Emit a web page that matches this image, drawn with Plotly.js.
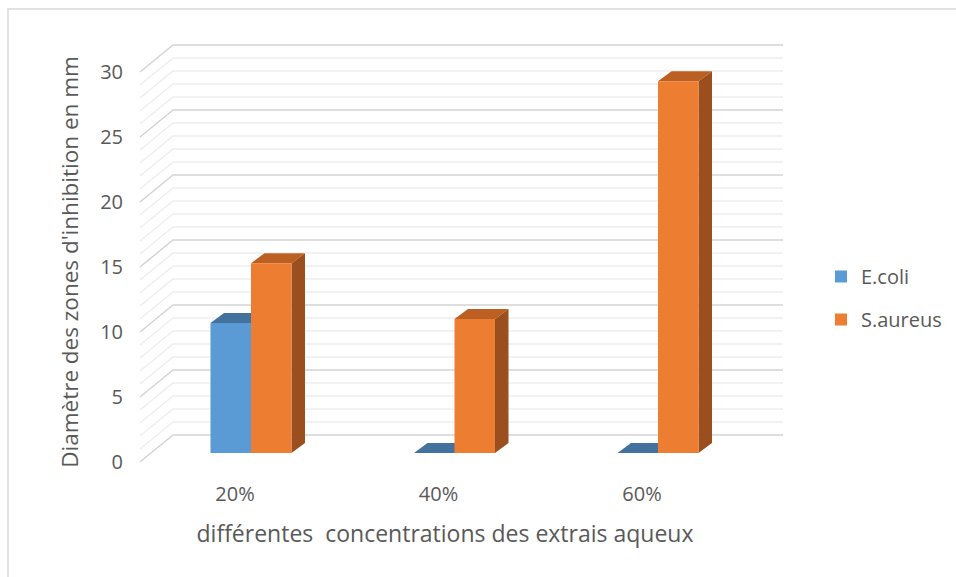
<!DOCTYPE html>
<html>
<head>
<meta charset="utf-8">
<script src="https://cdn.plot.ly/plotly-3.0.1.min.js"></script>
<style>
  html, body { margin: 0; padding: 0; background: #ffffff; }
  #chart { width: 956px; height: 577px; }
</style>
</head>
<body>
<div id="chart"></div>
<script>
// Data: inhibition zone diameters (mm) per aqueous extract concentration
const categories = ['20%', '40%', '60%'];
const ecoli = [10, 0, 0];
const saureus = [14.6, 10.3, 28.6];
const seriesNames = ['E.coli', 'S.aureus'];
const yTickVals = [0, 5, 10, 15, 20, 25, 30];

// Page and plot-area geometry (pixels)
const W = 956, H = 577;
const M = { l: 140, r: 206, t: 46, b: 99, autoexpand: false };
const plotW = W - M.l - M.r;
const plotH = H - M.t - M.b;

// Scale of the bar plane: pixels per category and per mm
const CAT_PX = 203.5, VAL_PX = 13;
const CAT0_PX = 111;   // first category centre, from plot left
const ZERO_PX = 25;    // zero level of the bar plane, from plot bottom
const xRange = [-CAT0_PX / CAT_PX, (plotW - CAT0_PX) / CAT_PX];
const yRange = [-ZERO_PX / VAL_PX, (plotH - ZERO_PX) / VAL_PX];

// Depth offsets (px, right / up positive) relative to the bar plane
const FRONT = { dx: -11, dy: -9 };
const BACK = { dx: 22, dy: 18 };
const BAR_DEPTH = { dx: 13.5, dy: 10 };
const WALL_RIGHT_PX = 643;  // right end of the back wall, from plot left

const BARGAP = 0.602;
const barW = (1 - BARGAP) / 2;

const colors = {
  front: ['#5B9BD5', '#ED7D31'],
  top: ['#44729E', '#BC5F22'],
  side: ['#3A6690', '#9B4F1E']
};
const textColor = '#595959';
const FONT = '"Open Sans", "Noto Sans", sans-serif';

const pxPerX = plotW / (xRange[1] - xRange[0]);
const pxPerY = plotH / (yRange[1] - yRange[0]);
const yPaper = v => (v - yRange[0]) / (yRange[1] - yRange[0]);

const shapes = [];

// Chart frame
shapes.push({
  type: 'rect', xref: 'paper', yref: 'paper', layer: 'below',
  x0: (8 - M.l) / plotW, x1: (W + 20 - M.l) / plotW,
  y0: (H - M.b - (H + 20)) / plotH, y1: (H - M.b - 9) / plotH,
  line: { color: '#D9D9D9', width: 1.5 }, fillcolor: 'rgba(0,0,0,0)'
});

// Back wall and side wall gridlines (major every 5 mm, minor every 1 mm)
const yMin = yTickVals[0], yMax = yTickVals[yTickVals.length - 1];
const majorStep = yTickVals[1] - yTickVals[0];
for (let v = yMin; v <= yMax; v += 1) {
  const major = v % majorStep === 0;
  const yf = yPaper(v) + FRONT.dy / plotH;
  const yb = yPaper(v) + BACK.dy / plotH;
  const xbl = (BACK.dx - FRONT.dx) / plotW;
  const xbr = WALL_RIGHT_PX / plotW;
  shapes.push({
    type: 'path', xref: 'paper', yref: 'paper', layer: 'below',
    path: `M0,${yf} L${xbl},${yb} L${xbr},${yb}`,
    line: { color: major ? '#D4D4D4' : '#EEEEEE', width: 1.5 }
  });
}

// Top and side faces of each column, built from the same values as the bars
const ddx = BAR_DEPTH.dx / pxPerX, ddy = BAR_DEPTH.dy / pxPerY;
[ecoli, saureus].forEach((vals, s) => {
  vals.forEach((v, i) => {
    const x0 = i + (s - 1) * barW, x1 = x0 + barW;
    shapes.push({
      type: 'path', xref: 'x', yref: 'y', layer: 'below',
      path: `M${x0},${v} L${x1},${v} L${x1 + ddx},${v + ddy} L${x0 + ddx},${v + ddy} Z`,
      fillcolor: colors.top[s], line: { width: 0 }
    });
    if (v > 0) {
      shapes.push({
        type: 'path', xref: 'x', yref: 'y', layer: 'below',
        path: `M${x1},0 L${x1},${v} L${x1 + ddx},${v + ddy} L${x1 + ddx},${ddy} Z`,
        fillcolor: colors.side[s], line: { width: 0 }
      });
    }
  });
});

const traces = [ecoli, saureus].map((vals, s) => ({
  type: 'bar',
  name: seriesNames[s],
  x: categories,
  y: vals,
  marker: { color: colors.front[s], line: { width: 0 } },
  legendgroup: seriesNames[s],
  hoverinfo: 'x+y+name'
}));

const layout = {
  width: W, height: H,
  margin: M,
  paper_bgcolor: '#ffffff',
  plot_bgcolor: 'rgba(0,0,0,0)',
  barmode: 'group',
  bargap: BARGAP,
  bargroupgap: 0,
  font: { family: FONT, color: textColor, size: 20 },
  xaxis: {
    type: 'category',
    range: xRange,
    showgrid: false, zeroline: false, showline: false, ticks: '',
    ticklabelshift: -16,
    ticklabelstandoff: 2,
    tickfont: { size: 20, color: textColor, family: FONT },
    title: {
      text: 'différentes\u00a0 concentrations des extrais aqueux',
      font: { size: 23, color: textColor, family: FONT },
      standoff: 19
    }
  },
  yaxis: {
    range: yRange,
    tickvals: yTickVals,
    showgrid: false, zeroline: false, showline: false, ticks: '',
    ticklabelshift: 9,
    ticklabelstandoff: 16,
    tickfont: { size: 20, color: textColor, family: FONT },
    title: {
      text: "Diamètre des zones d'inhibition en mm",
      font: { size: 22.5, color: textColor, family: FONT },
      standoff: 15
    }
  },
  legend: {
    x: (821 - M.l) / plotW, xanchor: 'left',
    y: (H - M.b - 298) / plotH, yanchor: 'middle',
    traceorder: 'grouped',
    tracegroupgap: 14,
    font: { size: 20, color: textColor, family: FONT },
    bgcolor: 'rgba(0,0,0,0)'
  },
  shapes: shapes,
  showlegend: true
};

Plotly.newPlot('chart', traces, layout, { displayModeBar: false, staticPlot: true });
</script>
</body>
</html>
